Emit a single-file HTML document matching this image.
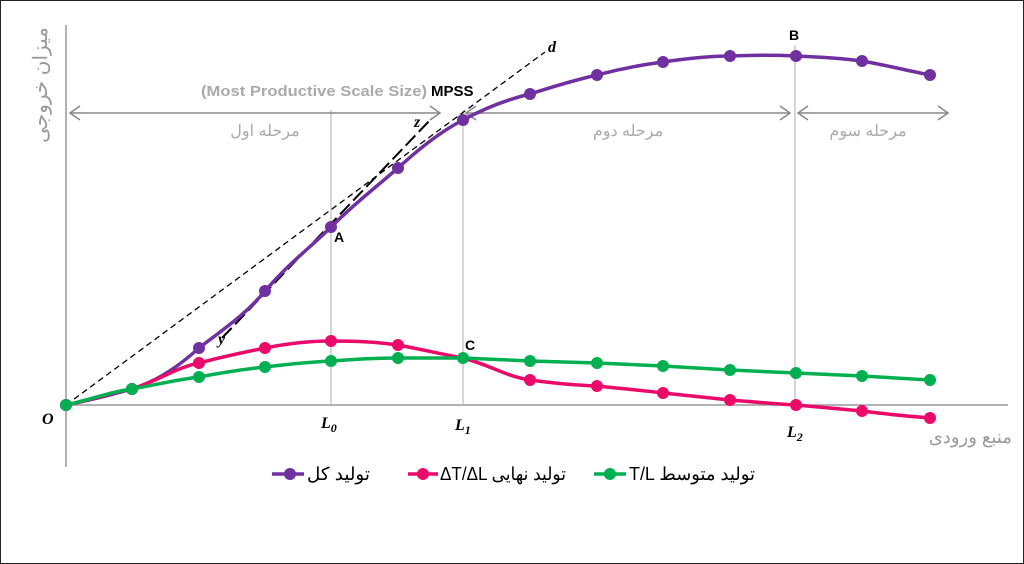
<!DOCTYPE html>
<html><head><meta charset="utf-8"><style>
html,body{margin:0;padding:0;background:#fff}
svg{display:block}
</style></head><body>
<svg width="1024" height="564" viewBox="0 0 1024 564" xmlns="http://www.w3.org/2000/svg">
<rect x="0.5" y="0.5" width="1023" height="563" fill="#fff" stroke="#222" stroke-width="1"/>
<g stroke="#999" stroke-width="1.5" fill="none">
<line x1="66" y1="25" x2="66" y2="467"/>
<line x1="66" y1="405" x2="1008" y2="405"/>
</g>
<g stroke="#bbb" stroke-width="1.2">
<line x1="331" y1="110" x2="331" y2="405"/>
<line x1="463" y1="110" x2="463" y2="405"/>
<line x1="795" y1="45" x2="795" y2="405"/>
</g>
<g stroke="#888" stroke-width="1.5" fill="none">
<line x1="70" y1="113" x2="440" y2="113"/><polyline points="80,106 70,113 80,120"/><polyline points="430,106 440,113 430,120"/>
<line x1="466" y1="113" x2="790" y2="113"/><polyline points="476,106 466,113 476,120"/><polyline points="780,106 790,113 780,120"/>
<line x1="798" y1="113" x2="948" y2="113"/><polyline points="808,106 798,113 808,120"/><polyline points="938,106 948,113 938,120"/>
</g>
<g font-family="Liberation Sans, Noto Sans CJK SC, sans-serif" fill="#aaa" font-size="16">
<text x="265" y="136" text-anchor="middle">مرحله اول</text>
<text x="628" y="136" text-anchor="middle">مرحله دوم</text>
<text x="868" y="136" text-anchor="middle">مرحله سوم</text>
<text x="201" y="96" font-weight="bold" font-size="15" textLength="226" lengthAdjust="spacingAndGlyphs">(Most Productive Scale Size)</text>
<text x="431" y="96" font-weight="bold" font-size="15" fill="#000">MPSS</text>
<text x="1012" y="443" text-anchor="end" font-size="18" fill="#999">منبع ورودی</text>
<text transform="translate(47,85) rotate(-90)" text-anchor="middle" font-size="20" fill="#999">میزان خروجی</text>
</g>
<line x1="66" y1="405" x2="545" y2="52" stroke="#000" stroke-width="1.3" stroke-dasharray="6,4"/>
<line x1="222" y1="338" x2="432" y2="118" stroke="#000" stroke-width="2" stroke-dasharray="14,5"/>
<g font-family="Liberation Serif, serif" font-weight="bold" font-style="italic" font-size="16" fill="#000">
<text x="548" y="52">d</text><text x="414" y="127">z</text><text x="218" y="344">y</text>
<text x="42" y="424">O</text>
<text x="321" y="428">L<tspan font-size="12" dy="4">0</tspan></text>
<text x="455" y="430">L<tspan font-size="12" dy="4">1</tspan></text>
<text x="787" y="437">L<tspan font-size="12" dy="4">2</tspan></text>
</g>
<g font-family="Liberation Sans, sans-serif" font-weight="bold" font-size="14" fill="#000">
<text x="334" y="242">A</text><text x="465" y="350">C</text><text x="789" y="40">B</text>
</g>
<path d="M66,405 C100,398 110,395 132,389 C160,380 180,365 199,348 C225,328 245,315 265,291 C290,262 310,248 331,227 C355,203 375,188 398,168 C420,148 440,132 463,120 C485,108 505,100 530,94 C555,86 575,80 597,75 C620,69 640,65 663,62 C690,58 710,56 730,56 C755,55 775,55 796,56 C820,57 840,58 862,61 C885,65 905,70 930,75" fill="none" stroke="#7030a0" stroke-width="3.5"/>
<g fill="#7030a0"><circle cx="66" cy="405" r="6"/><circle cx="132" cy="389" r="6"/><circle cx="199" cy="348" r="6"/><circle cx="265" cy="291" r="6"/><circle cx="331" cy="227" r="6"/><circle cx="398" cy="168" r="6"/><circle cx="463" cy="120" r="6"/><circle cx="530" cy="94" r="6"/><circle cx="597" cy="75" r="6"/><circle cx="663" cy="62" r="6"/><circle cx="730" cy="56" r="6"/><circle cx="796" cy="56" r="6"/><circle cx="862" cy="61" r="6"/><circle cx="930" cy="75" r="6"/></g>
<path d="M66,405 C100,398 110,392 132,389 C160,380 175,368 199,363 C225,356 245,352 265,348 C290,343 310,341 331,341 C360,341 375,342 398,345 C425,350 440,354 463,358 C490,365 505,376 530,380 C560,384 575,385 597,386 C625,389 640,390 663,393 C690,396 710,398 730,400 C755,402 775,404 796,405 C820,407 840,409 862,411 C885,414 905,416 930,418" fill="none" stroke="#ea0a6a" stroke-width="3.5"/>
<g fill="#ea0a6a"><circle cx="66" cy="405" r="6"/><circle cx="132" cy="389" r="6"/><circle cx="199" cy="363" r="6"/><circle cx="265" cy="348" r="6"/><circle cx="331" cy="341" r="6"/><circle cx="398" cy="345" r="6"/><circle cx="530" cy="380" r="6"/><circle cx="597" cy="386" r="6"/><circle cx="663" cy="393" r="6"/><circle cx="730" cy="400" r="6"/><circle cx="796" cy="405" r="6"/><circle cx="862" cy="411" r="6"/><circle cx="930" cy="418" r="6"/></g>
<path d="M66,405 C100,397 110,392 132,389 C160,384 175,380 199,377 C225,372 245,369 265,367 C290,364 310,362 331,361 C360,359 375,358 398,358 C420,358 440,358 463,358 C490,359 505,360 530,361 L597,363 L663,366 L730,370 L796,373 L862,376 L930,380" fill="none" stroke="#00b050" stroke-width="3.5"/>
<g fill="#00b050"><circle cx="66" cy="405" r="6"/><circle cx="132" cy="389" r="6"/><circle cx="199" cy="377" r="6"/><circle cx="265" cy="367" r="6"/><circle cx="331" cy="361" r="6"/><circle cx="398" cy="358" r="6"/><circle cx="463" cy="358" r="6"/><circle cx="530" cy="361" r="6"/><circle cx="597" cy="363" r="6"/><circle cx="663" cy="366" r="6"/><circle cx="730" cy="370" r="6"/><circle cx="796" cy="373" r="6"/><circle cx="862" cy="376" r="6"/><circle cx="930" cy="380" r="6"/></g>
<g font-family="Liberation Sans, Noto Sans CJK SC, sans-serif" font-size="18" fill="#000">
<line x1="272" y1="474" x2="304" y2="474" stroke="#7030a0" stroke-width="3.5"/><circle cx="290" cy="474" r="6" fill="#7030a0"/>
<text x="307" y="480" textLength="63" lengthAdjust="spacingAndGlyphs">تولید کل</text>
<line x1="408" y1="474" x2="438" y2="474" stroke="#ea0a6a" stroke-width="3.5"/><circle cx="423" cy="474" r="6" fill="#ea0a6a"/>
<text x="440" y="480" textLength="126" lengthAdjust="spacingAndGlyphs">ΔT/ΔL تولید نهایی</text>
<line x1="594" y1="474" x2="626" y2="474" stroke="#00b050" stroke-width="3.5"/><circle cx="610" cy="474" r="6" fill="#00b050"/>
<text x="629" y="480" textLength="126" lengthAdjust="spacingAndGlyphs">T/L تولید متوسط</text>
</g>
</svg>
</body></html>
